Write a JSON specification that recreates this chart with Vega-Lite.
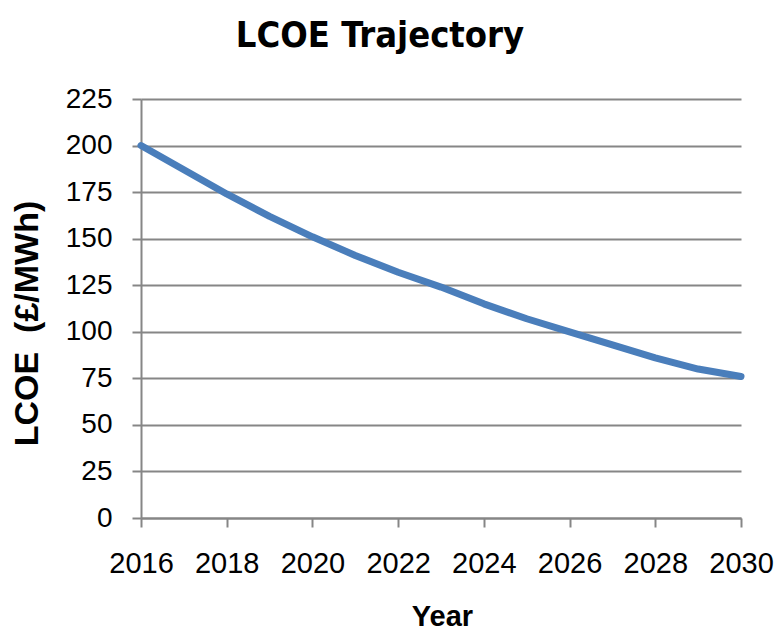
{
  "$schema": "https://vega.github.io/schema/vega-lite/v6.json",
  "width": 600,
  "height": 419,
  "autosize": {"type": "none"},
  "padding": {"left": 141, "top": 99, "right": 39, "bottom": 113},
  "background": "white",
  "title": {
    "text": "LCOE Trajectory",
    "font": "DejaVu Sans Condensed",
    "fontWeight": "bold",
    "fontSize": 36,
    "color": "black",
    "anchor": "middle",
    "frame": "group",
    "dx": -61,
    "baseline": "alphabetic",
    "offset": 2
  },
  "data": {
    "values": [
      {"year": 2016, "lcoe": 200},
      {"year": 2017, "lcoe": 187},
      {"year": 2018, "lcoe": 174},
      {"year": 2019, "lcoe": 162},
      {"year": 2020, "lcoe": 151},
      {"year": 2021, "lcoe": 141},
      {"year": 2022, "lcoe": 132},
      {"year": 2023, "lcoe": 124},
      {"year": 2024, "lcoe": 115},
      {"year": 2025, "lcoe": 107},
      {"year": 2026, "lcoe": 100},
      {"year": 2027, "lcoe": 93},
      {"year": 2028, "lcoe": 86},
      {"year": 2029, "lcoe": 80},
      {"year": 2030, "lcoe": 76}
    ]
  },
  "mark": {"type": "line", "color": "#4A7EBB", "strokeWidth": 7, "strokeCap": "round", "strokeJoin": "round", "clip": false},
  "encoding": {
    "x": {
      "field": "year",
      "type": "quantitative",
      "scale": {"domain": [2016, 2030], "nice": false, "zero": false},
      "axis": {
        "values": [2016, 2018, 2020, 2022, 2024, 2026, 2028, 2030],
        "format": "d",
        "grid": false,
        "domainColor": "#868686",
        "domainWidth": 2,
        "tickColor": "#868686",
        "tickWidth": 2,
        "tickSize": 9,
        "labelFont": "Liberation Sans",
        "labelFontSize": 29,
        "labelColor": "black",
        "labelPadding": 22,
        "labelFlush": false,
        "labelOverlap": false,
        "title": "Year",
        "titleFont": "Liberation Sans",
        "titleFontWeight": "bold",
        "titleFontSize": 29,
        "titleColor": "black",
        "titleX": 301,
        "titleY": 107,
        "titleAlign": "center",
        "titleBaseline": "alphabetic"
      }
    },
    "y": {
      "field": "lcoe",
      "type": "quantitative",
      "scale": {"domain": [0, 225], "nice": false},
      "axis": {
        "values": [0, 25, 50, 75, 100, 125, 150, 175, 200, 225],
        "grid": true,
        "gridColor": "#868686",
        "gridWidth": 2,
        "domainColor": "#868686",
        "domainWidth": 2,
        "tickColor": "#868686",
        "tickWidth": 2,
        "tickSize": 9,
        "labelFont": "Liberation Sans",
        "labelFontSize": 28,
        "labelColor": "black",
        "labelPadding": 20,
        "labelFlush": false,
        "labelOverlap": false,
        "title": "LCOE\u00a0\u00a0(£/MWh)",
        "titleFont": "Liberation Sans",
        "titleFontWeight": "bold",
        "titleFontSize": 34,
        "titleColor": "black",
        "titleAngle": 270,
        "titleX": -104,
        "titleY": 224,
        "titleAlign": "center",
        "titleBaseline": "alphabetic"
      }
    }
  },
  "config": {"view": {"stroke": null}}
}
